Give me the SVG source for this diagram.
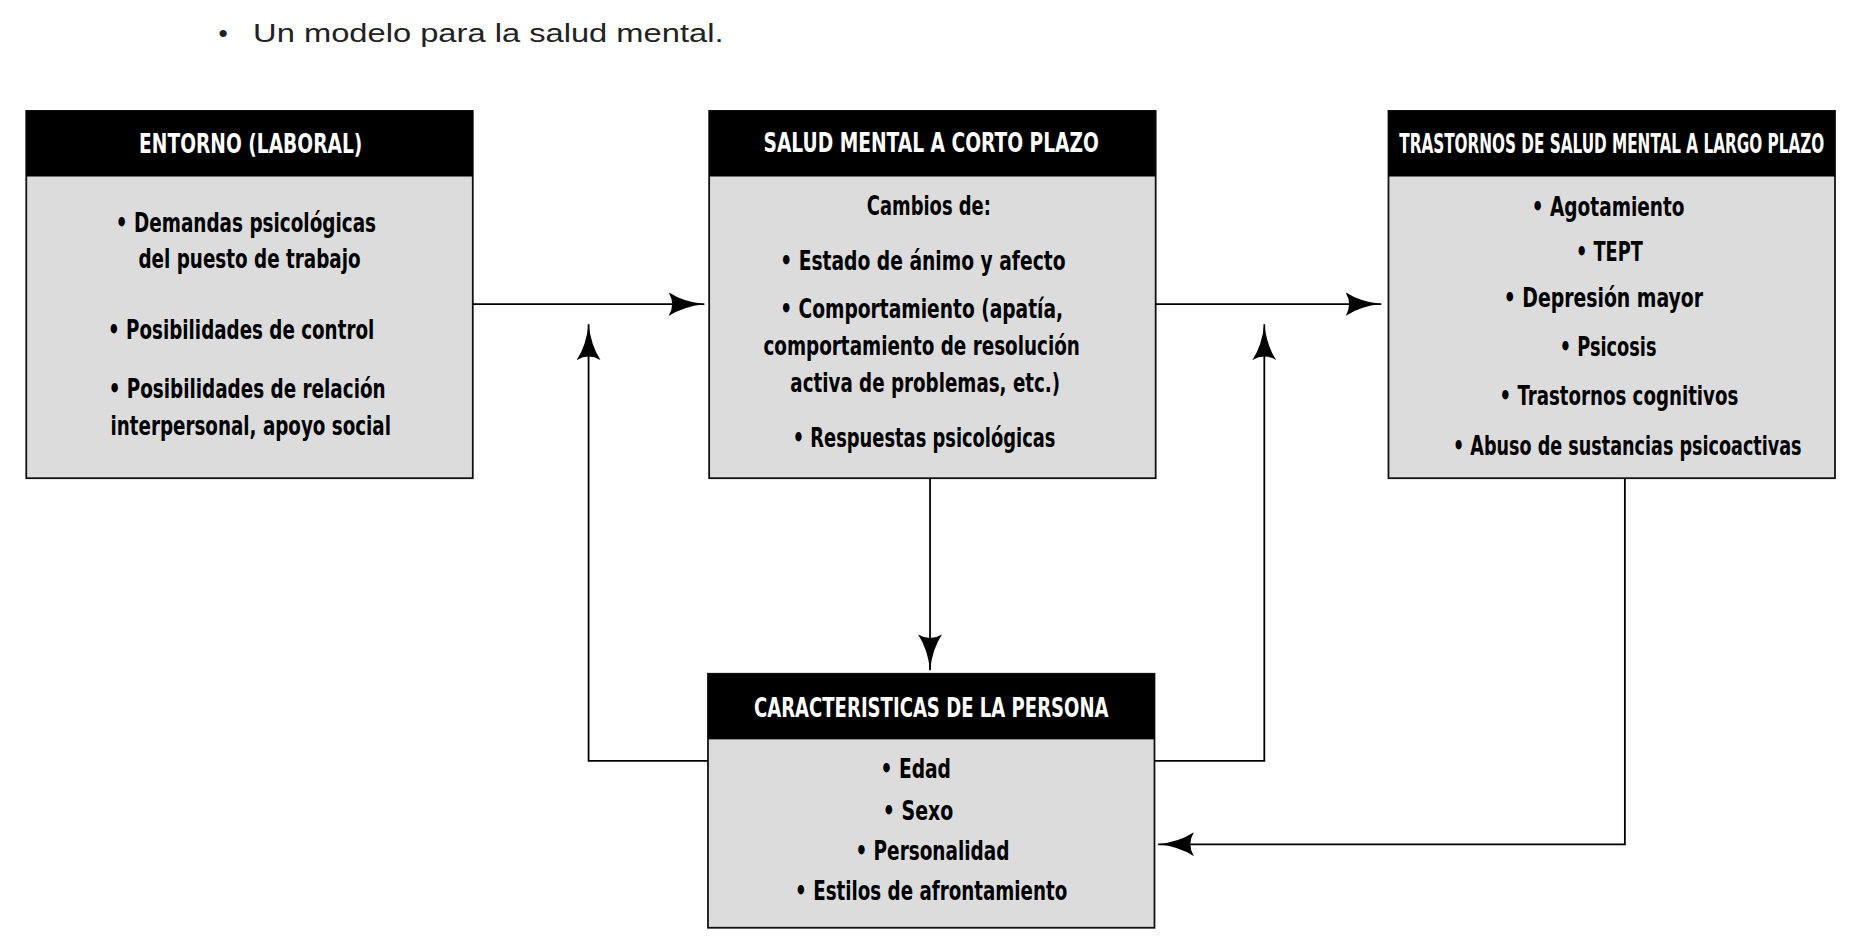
<svg xmlns="http://www.w3.org/2000/svg" width="1872" height="944" viewBox="0 0 1872 944">
<style>
.box{fill:#dcdcdc;stroke:#111;stroke-width:1.5}
.hdr{fill:#000}
.ht{fill:#fff;font-family:"DejaVu Sans Condensed","Liberation Sans",sans-serif;font-weight:bold;font-size:22px;text-anchor:middle;dominant-baseline:central}
.bt{fill:#000;font-family:"DejaVu Sans Condensed","Liberation Sans",sans-serif;font-weight:bold;font-size:22px;text-anchor:middle;dominant-baseline:central}
.ln{fill:none;stroke:#000;stroke-width:1.5}
</style>
<defs>
<marker id="ah" viewBox="0 0 30 20" refX="30" refY="10" markerWidth="30" markerHeight="20" markerUnits="userSpaceOnUse" orient="auto">
<path d="M0,0 Q12,8 30,10 Q12,12 0,20 Q6,10 0,0 z" fill="#000"/>
</marker>
</defs>
<g transform="scale(1.19388,1.1925)">
<g id="title">
<text x="183" y="28" font-family="Liberation Sans,sans-serif" font-size="22" fill="#222" dominant-baseline="central">•</text>
<text x="212" y="28" font-family="Liberation Sans,sans-serif" font-size="22" fill="#222" dominant-baseline="central" textLength="394" lengthAdjust="spacingAndGlyphs">Un modelo para la salud mental.</text>
</g>
<g id="connectors">
<path class="ln" d="M396,255 H590" marker-end="url(#ah)"/>
<path class="ln" d="M968,255 H1157" marker-end="url(#ah)"/>
<path class="ln" d="M593,638 H493 V272" marker-end="url(#ah)"/>
<path class="ln" d="M967,638 H1059 V272" marker-end="url(#ah)"/>
<path class="ln" d="M779,401 V562" marker-end="url(#ah)"/>
<path class="ln" d="M1361,401 V708 H970" marker-end="url(#ah)"/>
</g>
<g id="entorno">
<rect class="box" x="22" y="93" width="374" height="308"/>
<rect class="hdr" x="22" y="93" width="374" height="55"/>
<text class="ht" x="210" y="121" textLength="187" lengthAdjust="spacingAndGlyphs">ENTORNO (LABORAL)</text>
<text class="bt" x="206" y="187" textLength="218" lengthAdjust="spacingAndGlyphs">• Demandas psicológicas</text>
<text class="bt" x="209" y="217" textLength="186" lengthAdjust="spacingAndGlyphs">del puesto de trabajo</text>
<text class="bt" x="202" y="277" textLength="223" lengthAdjust="spacingAndGlyphs">• Posibilidades de control</text>
<text class="bt" x="207" y="326" textLength="232" lengthAdjust="spacingAndGlyphs">• Posibilidades de relación</text>
<text class="bt" x="210" y="357" textLength="235" lengthAdjust="spacingAndGlyphs">interpersonal, apoyo social</text>
</g>
<g id="corto">
<rect class="box" x="594" y="93" width="374" height="308"/>
<rect class="hdr" x="594" y="93" width="374" height="55"/>
<text class="ht" x="780" y="120" textLength="281" lengthAdjust="spacingAndGlyphs">SALUD MENTAL A CORTO PLAZO</text>
<text class="bt" x="778" y="173" textLength="104" lengthAdjust="spacingAndGlyphs">Cambios de:</text>
<text class="bt" x="773" y="219" textLength="239" lengthAdjust="spacingAndGlyphs">• Estado de ánimo y afecto</text>
<text class="bt" x="772" y="259" textLength="237" lengthAdjust="spacingAndGlyphs">• Comportamiento (apatía,</text>
<text class="bt" x="772" y="290" textLength="265" lengthAdjust="spacingAndGlyphs">comportamiento de resolución</text>
<text class="bt" x="775" y="321" textLength="226" lengthAdjust="spacingAndGlyphs">activa de problemas, etc.)</text>
<text class="bt" x="774" y="367" textLength="220" lengthAdjust="spacingAndGlyphs">• Respuestas psicológicas</text>
</g>
<g id="largo">
<rect class="box" x="1163" y="93" width="374" height="308"/>
<rect class="hdr" x="1163" y="93" width="374" height="55"/>
<text class="ht" x="1350" y="121" textLength="356" lengthAdjust="spacingAndGlyphs">TRASTORNOS DE SALUD MENTAL A LARGO PLAZO</text>
<text class="bt" x="1347" y="174" textLength="128" lengthAdjust="spacingAndGlyphs">• Agotamiento</text>
<text class="bt" x="1348" y="211" textLength="56" lengthAdjust="spacingAndGlyphs">• TEPT</text>
<text class="bt" x="1343" y="250" textLength="167" lengthAdjust="spacingAndGlyphs">• Depresión mayor</text>
<text class="bt" x="1347" y="291" textLength="81" lengthAdjust="spacingAndGlyphs">• Psicosis</text>
<text class="bt" x="1356" y="332" textLength="200" lengthAdjust="spacingAndGlyphs">• Trastornos cognitivos</text>
<text class="bt" x="1363" y="374" textLength="292" lengthAdjust="spacingAndGlyphs">• Abuso de sustancias psicoactivas</text>
</g>
<g id="persona">
<rect class="box" x="593" y="565" width="374" height="213"/>
<rect class="hdr" x="593" y="565" width="374" height="55"/>
<text class="ht" x="780" y="594" textLength="297" lengthAdjust="spacingAndGlyphs">CARACTERISTICAS DE LA PERSONA</text>
<text class="bt" x="767" y="645" textLength="59" lengthAdjust="spacingAndGlyphs">• Edad</text>
<text class="bt" x="769" y="680" textLength="59" lengthAdjust="spacingAndGlyphs">• Sexo</text>
<text class="bt" x="781" y="714" textLength="129" lengthAdjust="spacingAndGlyphs">• Personalidad</text>
<text class="bt" x="780" y="747" textLength="228" lengthAdjust="spacingAndGlyphs">• Estilos de afrontamiento</text>
</g>
</g>
</svg>
